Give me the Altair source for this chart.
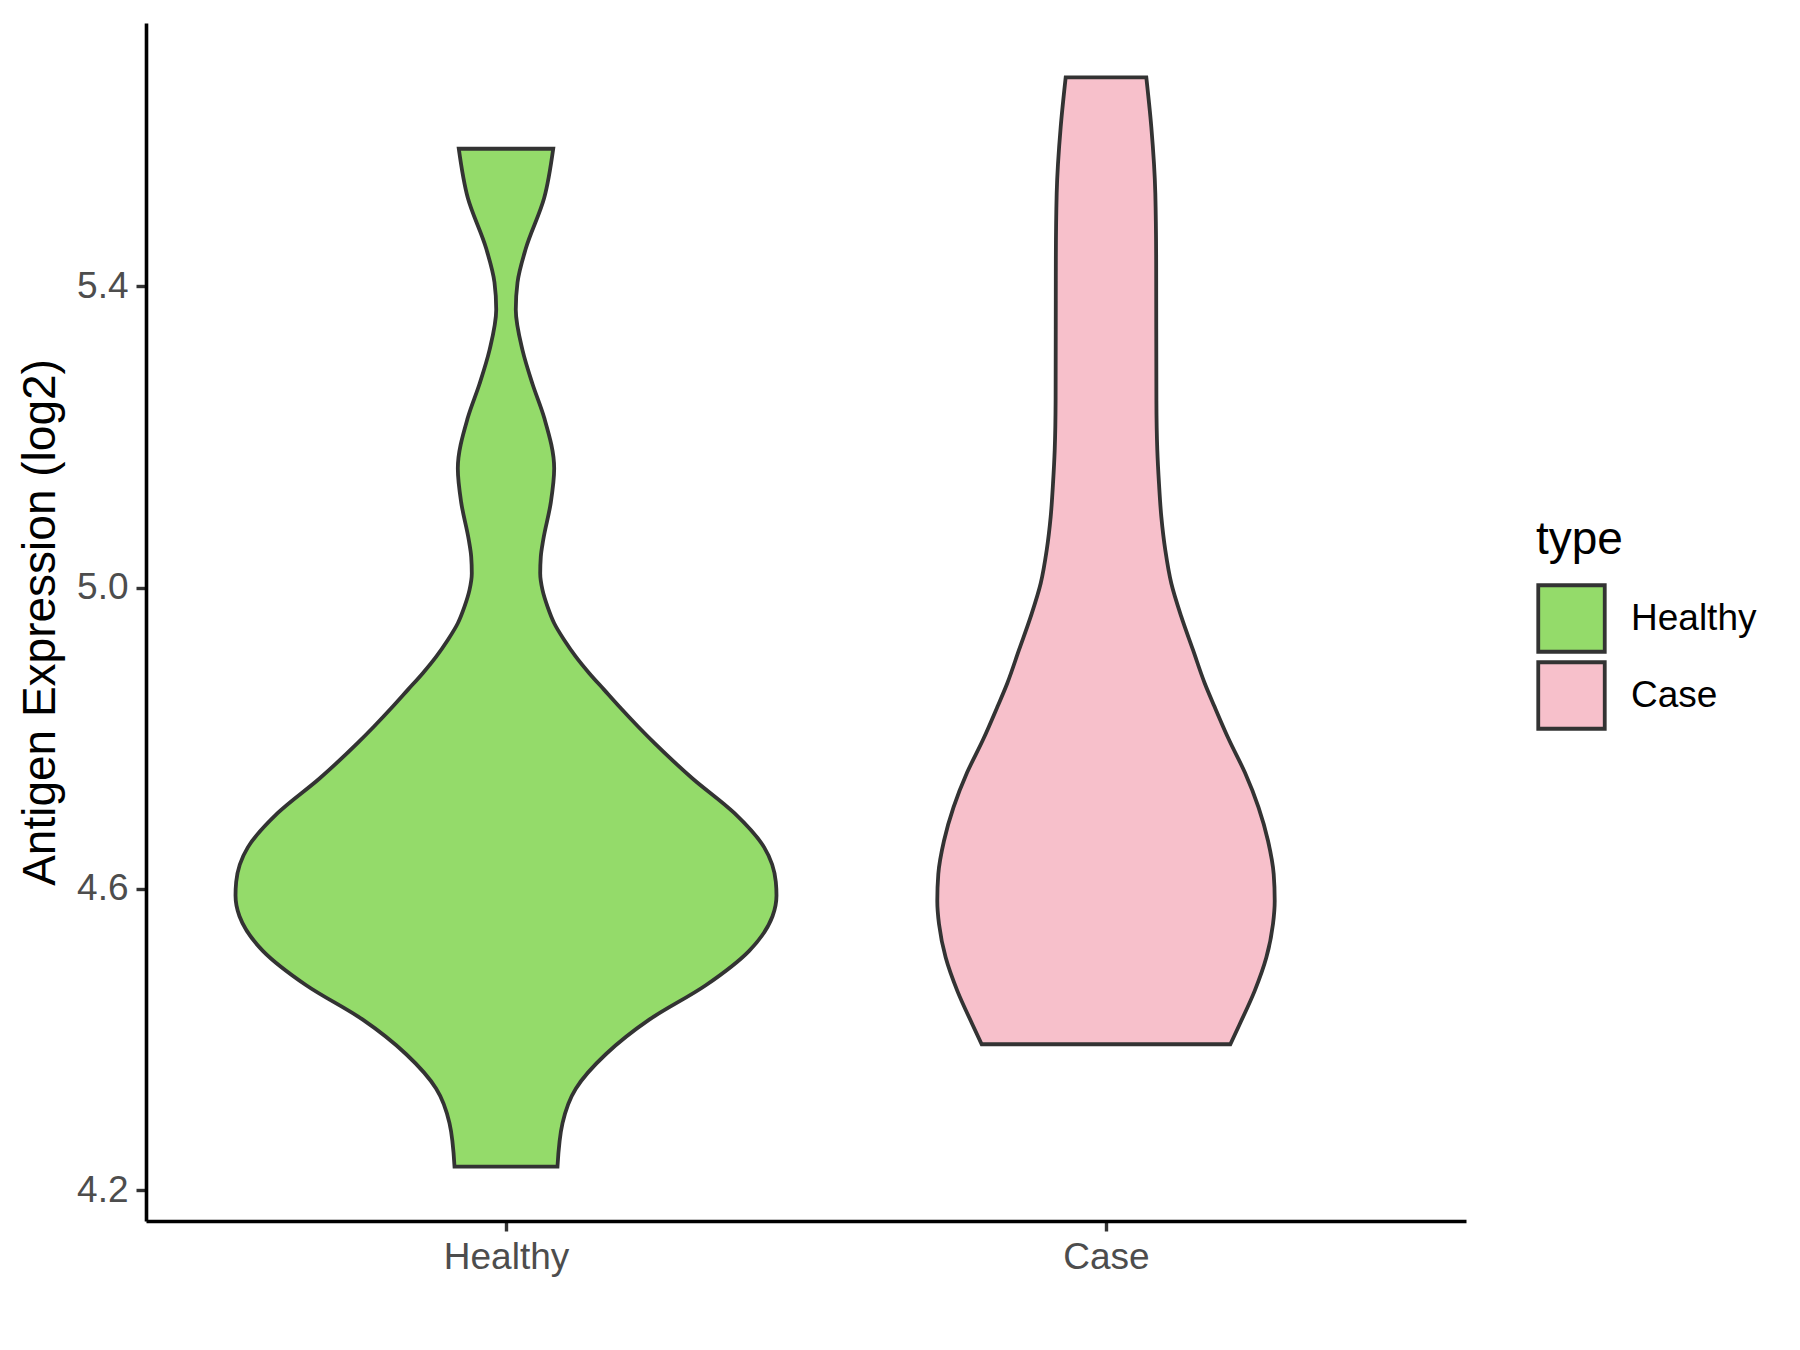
import altair as alt
import pandas as pd

# Violin outlines: expression value and half-width (in x units)
groups = ["Healthy", "Case"]
group_pos = [1, 2]
colors = ["#94DB6A", "#F7C0CB"]

healthy_value = [5.5826, 5.5175, 5.4501, 5.4052, 5.3692, 5.3153, 5.2703, 5.2254,
                 5.1580, 5.1131, 5.0631, 5.0409, 5.0189, 4.9968, 4.9746, 4.9526,
                 4.9304, 4.9083, 4.8863, 4.8641, 4.8420, 4.8155, 4.7934, 4.7465,
                 4.7007, 4.6550, 4.6092, 4.5910, 4.5635, 4.5176, 4.4719, 4.4262,
                 4.3803, 4.3346, 4.2889, 4.2312]
healthy_half = [0.0787, 0.0637, 0.0330, 0.0192, 0.0163, 0.0275, 0.0442, 0.0637,
                0.0803, 0.0747, 0.0620, 0.0580, 0.0570, 0.0608, 0.0692, 0.0803,
                0.0970, 0.1163, 0.1387, 0.1637, 0.1887, 0.2200, 0.2475, 0.3108,
                0.3803, 0.4303, 0.4497, 0.4508, 0.4442, 0.4053, 0.3330, 0.2387,
                0.1663, 0.1163, 0.0942, 0.0858]

case_value = [5.6773, 5.6117, 5.5232, 5.4346, 5.3814, 5.2488, 5.1825, 5.1383,
              5.0940, 5.0498, 5.0057, 4.9614, 4.9172, 4.8730, 4.8420, 4.7978,
              4.7540, 4.7081, 4.6638, 4.6195, 4.5841, 4.5531, 4.5087, 4.4645,
              4.4202, 4.3936]
case_half = [0.0672, 0.0755, 0.0822, 0.0836, 0.0837, 0.0840, 0.0855, 0.0883,
             0.0922, 0.0988, 0.1088, 0.1255, 0.1450, 0.1645, 0.1808, 0.2050,
             0.2317, 0.2542, 0.2700, 0.2795, 0.2812, 0.2783, 0.2672, 0.2478,
             0.2228, 0.2072]

y_ticks = [4.2, 4.6, 5.0, 5.4]

rows = []
for g, pos, vals, halves in [("Healthy", 1, healthy_value, healthy_half),
                             ("Case", 2, case_value, case_half)]:
    for v, h in zip(vals, halves):
        rows.append({"type": g, "value": v, "lo": pos - h, "hi": pos + h})
df = pd.DataFrame(rows)

chart = alt.Chart(df).mark_area(
    orient="horizontal", interpolate="monotone",
    stroke="#333333", strokeWidth=3.8, opacity=1, fillOpacity=1
).encode(
    y=alt.Y("value:Q",
            scale=alt.Scale(domain=[4.1589, 5.7496], nice=False, zero=False),
            axis=alt.Axis(title="Antigen Expression (log2)", values=y_ticks, format=".1f",
                          grid=False, titleX=-106, titleBaseline="middle")),
    x=alt.X("lo:Q",
            scale=alt.Scale(domain=[0.4, 2.6], nice=False, zero=False),
            axis=alt.Axis(title=None, values=group_pos,
                          labelExpr="datum.value == 1 ? 'Healthy' : 'Case'", grid=False)),
    x2="hi:Q",
    color=alt.Color("type:N",
                    scale=alt.Scale(domain=groups, range=colors),
                    legend=alt.Legend(title="type", orient="none", legendX=1390, legendY=495,
                                      symbolType="square", symbolSize=4420,
                                      symbolStrokeColor="#333333", symbolStrokeWidth=3.8,
                                      symbolOpacity=1, labelOffset=24, rowPadding=-15,
                                      titlePadding=19)),
).properties(
    width=1320, height=1198,
    autosize=alt.AutoSizeParams(type="none"),
    padding={"left": 138, "top": 15, "right": 326, "bottom": 121},
).configure_view(
    stroke=None
).configure_axis(
    domainColor="#000000", domainWidth=3.6,
    tickColor="#333333", tickWidth=3.4, tickSize=10,
    labelFont="Liberation Sans", labelFontSize=37, labelColor="#4D4D4D", labelPadding=8,
    titleFont="Liberation Sans", titleFontSize=46, titleColor="#000000", titleFontWeight="normal",
).configure_legend(
    labelFont="Liberation Sans", labelFontSize=37, labelColor="#000000",
    titleFont="Liberation Sans", titleFontSize=46, titleColor="#000000", titleFontWeight="normal",
)

chart.save("out.html", embed_options={"renderer": "svg", "actions": False})
